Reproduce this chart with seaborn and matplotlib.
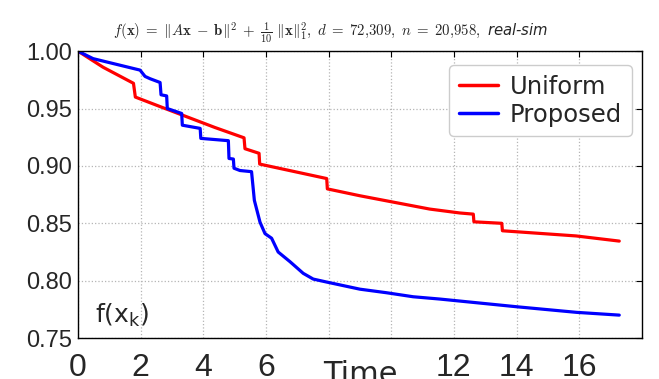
import numpy as np
import pandas as pd
import seaborn as sns
import matplotlib.pyplot as plt

# values
uniform_t = [0, 0.8, 1.77, 1.83, 2.83, 4.37, 5.30, 5.33, 5.78, 5.80, 7.94, 7.96,
             9.0, 9.96, 11.23, 12.19, 12.62, 12.64, 13.53, 13.55, 15.9, 17.28]
uniform_f = [1.0, 0.986, 0.972, 0.960, 0.9495, 0.9335, 0.9245, 0.915, 0.911, 0.9016, 0.889, 0.880,
             0.874, 0.869, 0.8624, 0.859, 0.858, 0.8513, 0.850, 0.8435, 0.839, 0.8345]

proposed_t = [0, 0.48, 1.98, 2.14, 2.30, 2.62, 2.65, 2.83, 2.85, 3.31, 3.33, 3.90, 3.92,
              4.80, 4.82, 4.96, 4.98, 5.17, 5.54, 5.63, 5.81, 5.97, 6.18, 6.39, 6.77,
              7.19, 7.51, 7.94, 9.0, 9.85, 10.7, 11.55, 14.0, 15.92, 17.28]
proposed_f = [1.0, 0.9935, 0.9835, 0.978, 0.976, 0.9727, 0.962, 0.961, 0.950, 0.9457, 0.9355, 0.9327, 0.924,
              0.922, 0.9065, 0.9060, 0.898, 0.896, 0.895, 0.870, 0.851, 0.841, 0.837, 0.825, 0.8165,
              0.8064, 0.8014, 0.7988, 0.7926, 0.7895, 0.786, 0.784, 0.7773, 0.7724, 0.770]

xtick_vals = [0, 2, 4, 6, 8, 10, 12, 14, 16]
xtick_text = ['0', '2', '4', '6', '', '', '12', '14', '16']
ytick_vals = [0.75, 0.80, 0.85, 0.90, 0.95, 1.00]

df = pd.concat([
    pd.DataFrame({"time": uniform_t, "f": uniform_f, "method": "Uniform"}),
    pd.DataFrame({"time": proposed_t, "f": proposed_f, "method": "Proposed"}),
], ignore_index=True)

sns.set_style("white")
plt.rcParams['font.family'] = ['DejaVu Sans']

fig = plt.figure(figsize=(6.59, 3.79), dpi=100)
ax = fig.add_axes([0.1184, 0.108, 0.8555, 0.757])

sns.lineplot(data=df, x="time", y="f", hue="method", palette=['#ff0000', '#0000ff'],
             estimator=None, sort=False, linewidth=2.3, ax=ax)

ax.set_xlim(0, 18)
ax.set_ylim(0.75, 1.0)
ax.set_xticks(xtick_vals)
ax.set_xticklabels(xtick_text, fontsize=23, family='Liberation Sans')
ax.set_yticks(ytick_vals)
ax.set_yticklabels(['%.2f' % v for v in ytick_vals], fontsize=17, family='Liberation Sans')
ax.tick_params(direction='in', right=True, top=True, length=4, width=0.8, color='black')
ax.tick_params(axis='x', pad=11)
ax.tick_params(axis='y', pad=4)
ax.grid(True, ls=':', color='#b5b5b5', lw=0.9)
for s in ax.spines.values():
    s.set_color('black')
    s.set_linewidth(1.0)

ax.set_xlabel('Time', fontsize=22, labelpad=-17)
ax.set_ylabel('')
ax.text(0.03, 0.03, r'f(x$_\mathregular{k}$)', transform=ax.transAxes, fontsize=18,
        ha='left', va='bottom')

ax.set_title(r'$f(\mathbf{x})\;=\;\|A\mathbf{x}\;-\;\mathbf{b}\|^2\;+\;\frac{1}{10}\ \|\mathbf{x}\|_1^2,\ d\;=\;72{,}309,\ n\;=\;20{,}958,$ real-sim',
             fontsize=10.7, style='italic', math_fontfamily='cm', pad=11, x=0.448)

leg = ax.legend(loc='upper right', bbox_to_anchor=(1 - 10 / 564, 1 - 14 / 287),
                fontsize=17.5, handlelength=1.6, frameon=True,
                fancybox=True, framealpha=1, edgecolor='#cccccc', borderpad=0.4,
                labelspacing=0.15, handletextpad=0.5, borderaxespad=0)
for line in leg.get_lines():
    line.set_linewidth(2.5)

fig.savefig('out.png', dpi=100)
